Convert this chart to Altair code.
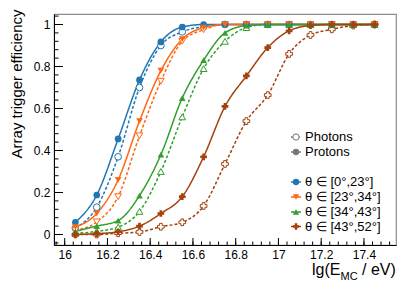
import altair as alt
import pandas as pd

# ---- data ----
energy = [16.05, 16.15, 16.25, 16.35, 16.45, 16.55, 16.65, 16.75,
          16.85, 16.95, 17.05, 17.15, 17.25, 17.35, 17.45]

theta_bins = ["θ ∈ [0°,23°]", "θ ∈ [23°,34°]", "θ ∈ [34°,43°]", "θ ∈ [43°,52°]"]
theta_colors = ["#1f77b4", "#ff6611", "#33a02c", "#a3420f"]
theta_shapes = ["circle", "triangle-down", "triangle-up", "cross"]

# protons (filled markers, solid lines)
protons_0_23 = [0.058, 0.188, 0.455, 0.736, 0.917, 0.988, 1.0, 1.0, 1.0, 1.0, 1.0, 1.0, 1.0, 1.0, 1.0]
protons_23_34 = [0.035, 0.10, 0.26, 0.54, 0.78, 0.93, 0.985, 1.0, 1.0, 1.0, 1.0, 1.0, 1.0, 1.0, 1.0]
protons_34_43 = [0.015, 0.04, 0.066, 0.185, 0.38, 0.65, 0.83, 0.96, 0.995, 1.0, 1.0, 1.0, 1.0, 1.0, 1.0]
protons_43_52 = [0.0, 0.004, 0.013, 0.04, 0.10, 0.18, 0.37, 0.61, 0.755, 0.89, 0.97, 0.995, 1.0, 1.0, 1.0]

# photons (open markers, dashed lines)
photons_0_23 = [0.03, 0.13, 0.37, 0.70, 0.90, 0.965, 0.99, 1.0, 1.0, 1.0, 1.0, 1.0, 1.0, 1.0, 1.0]
photons_23_34 = [0.02, 0.06, 0.18, 0.47, 0.73, 0.92, 0.975, 1.0, 1.0, 1.0, 1.0, 1.0, 1.0, 1.0, 1.0]
photons_34_43 = [0.005, 0.015, 0.035, 0.11, 0.30, 0.56, 0.79, 0.92, 0.985, 1.0, 1.0, 1.0, 1.0, 1.0, 1.0]
photons_43_52 = [0.0, 0.0, 0.006, 0.012, 0.037, 0.058, 0.136, 0.336, 0.54, 0.664, 0.86, 0.95, 0.977, 0.995, 1.0]

x_tick_values = [16, 16.2, 16.4, 16.6, 16.8, 17, 17.2, 17.4]
y_tick_values = [0, 0.2, 0.4, 0.6, 0.8, 1]

legend_types = ["Photons", "Protons"]

# ---- build tables ----
rows = []
for th, p, g in zip(theta_bins,
                    [protons_0_23, protons_23_34, protons_34_43, protons_43_52],
                    [photons_0_23, photons_23_34, photons_34_43, photons_43_52]):
    for e, v in zip(energy, p):
        rows.append({"E": e, "eff": v, "theta": th, "type": "Protons"})
    for e, v in zip(energy, g):
        rows.append({"E": e, "eff": v, "theta": th, "type": "Photons"})
df = pd.DataFrame(rows)

W, H = 342, 231
FONT = "Liberation Sans"

xs = alt.Scale(domain=[15.95, 17.55], nice=False, zero=False)
ys = alt.Scale(domain=[-0.05, 1.05], nice=False, zero=False)

xaxis = alt.Axis(values=x_tick_values, format="~g", ticks=False, grid=False,
                 domainColor="black", domainWidth=1, labelFont=FONT, labelFontSize=12,
                 labelColor="black", labelPadding=4, title=None, labelFlush=False)
yaxis = alt.Axis(values=y_tick_values, format="~g", ticks=False, grid=False,
                 domainColor="black", domainWidth=1, labelFont=FONT, labelFontSize=12,
                 labelColor="black", labelPadding=4,
                 title="Array trigger efficiency", titleFont=FONT, titleFontSize=15,
                 titleFontWeight="normal", titleColor="black", titleAngle=-90,
                 titleX=-38, titleY=-5, titleAlign="right", titleBaseline="middle")

def X(f):
    return alt.X(f, scale=xs, axis=xaxis)

def Y(f):
    return alt.Y(f, scale=ys, axis=yaxis)

color = alt.Color("theta:N", scale=alt.Scale(domain=theta_bins, range=theta_colors), legend=None)
shape = alt.Shape("theta:N", scale=alt.Scale(domain=theta_bins, range=theta_shapes), legend=None)

base = alt.Chart(df)

lines = base.mark_line(interpolate="monotone", strokeWidth=1.5).encode(
    x=X("E:Q"), y=Y("eff:Q"), color=color,
    strokeDash=alt.StrokeDash("type:N", scale=alt.Scale(domain=["Protons", "Photons"],
                                                        range=[[1, 0], [3, 2]]), legend=None),
    detail="type:N",
)

pts_p = base.transform_filter(alt.datum.type == "Protons").mark_point(
    filled=True, size=45, opacity=1).encode(x=X("E:Q"), y=Y("eff:Q"), color=color, shape=shape)

pts_g = base.transform_filter(alt.datum.type == "Photons").mark_point(
    filled=False, size=45, strokeWidth=1, opacity=1, fill="white").encode(
    x=X("E:Q"), y=Y("eff:Q"), color=color, shape=shape)

# ---- inside ticks ----
x_minor = [round(15.96 + 0.04 * i, 2) for i in range(40) if 15.95 <= round(15.96 + 0.04 * i, 2) <= 17.55]
y_minor = [round(-0.04 + 0.04 * i, 2) for i in range(28) if round(-0.04 + 0.04 * i, 2) <= 1.05]

xt_major = alt.Chart(pd.DataFrame({"v": x_tick_values})).mark_rule(color="black", strokeWidth=1).encode(
    x=X("v:Q"), y=alt.value(H), y2=alt.value(H - 7))
xt_minor = alt.Chart(pd.DataFrame({"v": x_minor})).mark_rule(color="black", strokeWidth=1).encode(
    x=X("v:Q"), y=alt.value(H), y2=alt.value(H - 3.5))
yt_major = alt.Chart(pd.DataFrame({"v": y_tick_values})).mark_rule(color="black", strokeWidth=1).encode(
    y=Y("v:Q"), x=alt.value(0), x2=alt.value(9))
yt_minor = alt.Chart(pd.DataFrame({"v": y_minor})).mark_rule(color="black", strokeWidth=1).encode(
    y=Y("v:Q"), x=alt.value(0), x2=alt.value(4.5))

# ---- x-axis title with subscript ----
t1 = alt.Chart(pd.DataFrame({"t": ["lg(E"]})).mark_text(
    font=FONT, fontSize=16, align="left", baseline="alphabetic", color="black").encode(
    text="t:N", x=alt.value(258), y=alt.value(261))
t2 = alt.Chart(pd.DataFrame({"t": ["MC"]})).mark_text(
    font=FONT, fontSize=11, align="left", baseline="alphabetic", color="black").encode(
    text="t:N", x=alt.value(286.5), y=alt.value(265.5))
t3 = alt.Chart(pd.DataFrame({"t": ["/ eV)"]})).mark_text(
    font=FONT, fontSize=16, align="left", baseline="alphabetic", color="black").encode(
    text="t:N", x=alt.value(308), y=alt.value(261))

# ---- legend ----
LX_LINE0, LX_LINE1, LX_MARK, LX_TEXT = 237, 247, 242, 251
leg_rows = []
type_y = [123, 138]
theta_y = [168, 183, 198, 212.5]
for lab, yy in zip(legend_types, type_y):
    leg_rows.append({"label": lab, "py": yy, "col": "#777777",
                     "shp": "circle", "open": lab == "Photons",
                     "dash": [2, 1.5] if lab == "Photons" else [1, 0]})
for lab, yy, c, s in zip(theta_bins, theta_y, theta_colors, theta_shapes):
    leg_rows.append({"label": lab, "py": yy, "col": c, "shp": s, "open": False, "dash": [1, 0]})
leg = pd.DataFrame(leg_rows)

lbase = alt.Chart(leg)
leg_lines = lbase.mark_rule(strokeWidth=1.5).encode(
    y=alt.Y("py:Q", scale=None), x=alt.value(LX_LINE0), x2=alt.value(LX_LINE1),
    color=alt.Color("col:N", scale=None),
    strokeDash=alt.StrokeDash("dash", scale=None))
leg_pf = lbase.transform_filter("!datum.open").mark_point(filled=True, size=40, opacity=1).encode(
    y=alt.Y("py:Q", scale=None), x=alt.value(LX_MARK),
    color=alt.Color("col:N", scale=None), shape=alt.Shape("shp:N", scale=None))
leg_po = lbase.transform_filter("datum.open").mark_point(filled=False, fill="white", size=40,
                                                          opacity=1, strokeWidth=1).encode(
    y=alt.Y("py:Q", scale=None), x=alt.value(LX_MARK),
    color=alt.Color("col:N", scale=None), shape=alt.Shape("shp:N", scale=None))
leg_text = lbase.mark_text(font=FONT, fontSize=13, align="left", baseline="middle", color="black").encode(
    y=alt.Y("py:Q", scale=None), x=alt.value(LX_TEXT), text="label:N")

chart = alt.layer(
    xt_minor, xt_major, yt_minor, yt_major,
    lines, pts_g, pts_p,
    leg_lines, leg_po, leg_pf, leg_text,
    t1, t2, t3,
).properties(
    width=W, height=H,
    autosize=alt.AutoSizeParams(type="none"),
    padding={"left": 46, "top": 6, "right": 5, "bottom": 38},
    background="white",
).configure_view(stroke="#8c8c8c", strokeWidth=1.2)

chart.save("out.html", embed_options={"renderer": "svg", "actions": False})
